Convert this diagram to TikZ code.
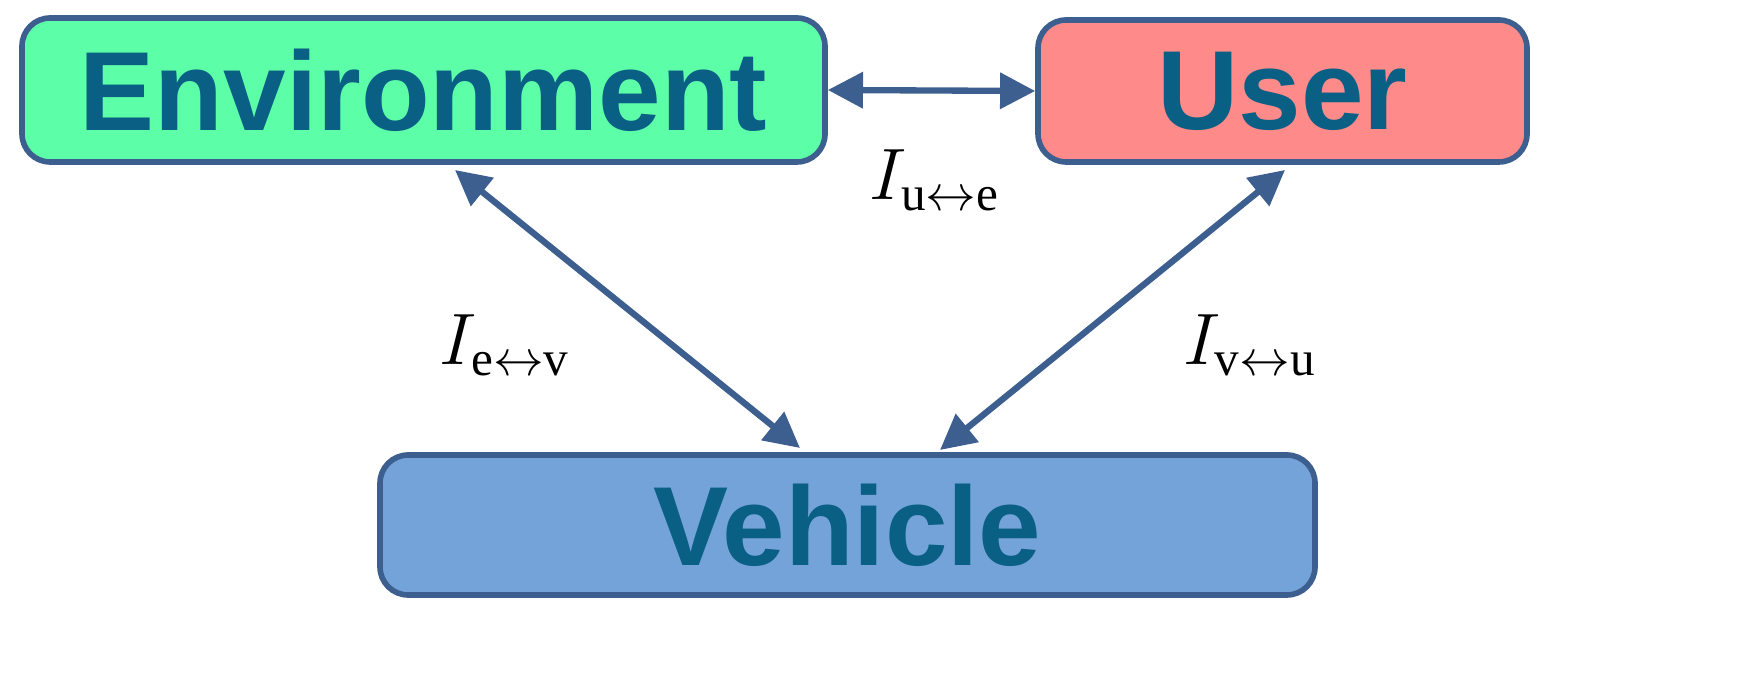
\documentclass[tikz,border=0pt]{standalone}
\usepackage{fontspec}
\setmainfont{Liberation Serif}
\newfontfamily\boxfont{Liberation Sans}
\usetikzlibrary{arrows.meta}
\definecolor{envc}{HTML}{5CFFA8}
\definecolor{userc}{HTML}{FF8A8A}
\definecolor{vehc}{HTML}{74A3D9}
\definecolor{edge}{HTML}{3D5F8F}
\definecolor{txt}{HTML}{0A5F85}
\begin{document}
\begin{tikzpicture}[
  box/.style={draw=edge,line width=1.6pt,rounded corners=8pt,inner sep=0pt,text=txt,font=\boxfont\bfseries\fontsize{32}{32}\selectfont},
  link/.style={edge,line width=1.8pt,{Triangle[length=10pt,width=10pt]}-{Triangle[length=10pt,width=10pt]}},
  lab/.style={font=\fontsize{20}{20}\selectfont}]
\useasboundingbox (0,0) rectangle (17.5,-6.91);
\node[box,fill=envc,minimum width=8.03cm,minimum height=1.44cm] (env) at (4.235,-0.90) {Environment};
\node[box,fill=userc,minimum width=4.89cm,minimum height=1.42cm] (user) at (12.825,-0.91) {User};
\node[box,fill=vehc,minimum width=9.35cm,minimum height=1.40cm] (veh) at (8.475,-5.25) {Vehicle};
\coordinate (a1) at (4.55,-1.70); \coordinate (a2) at (8.00,-4.48);
\coordinate (b1) at (12.85,-1.70); \coordinate (b2) at (9.40,-4.50);
\draw[link] (env.east) -- (user.west);
\draw[link] (a1) -- (a2);
\draw[link] (b1) -- (b2);
\node[lab] (l1) at (9.35,-1.80) {$I_{\mathrm{u}\leftrightarrow\mathrm{e}}$};
\node[lab] (l2) at (5.05,-3.45) {$I_{\mathrm{e}\leftrightarrow\mathrm{v}}$};
\node[lab] (l3) at (12.50,-3.45) {$I_{\mathrm{v}\leftrightarrow\mathrm{u}}$};
\end{tikzpicture}
\end{document}
